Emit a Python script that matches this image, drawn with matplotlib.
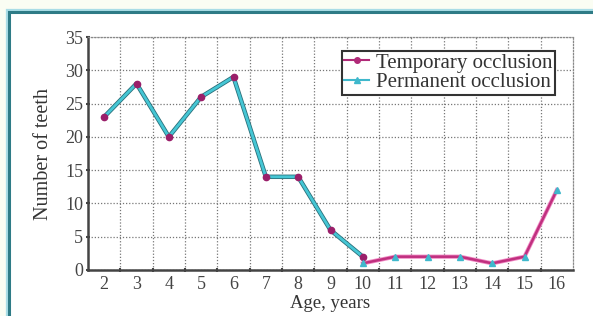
import matplotlib
matplotlib.use("Agg")
import matplotlib.pyplot as plt
from matplotlib.lines import Line2D
from matplotlib.patches import Rectangle
import matplotlib.patheffects as pe

ages_temp = [2, 3, 4, 5, 6, 7, 8, 9, 10]
temp = [23, 28, 20, 26, 29, 14, 14, 6, 2]
ages_perm = [10, 11, 12, 13, 14, 15, 16]
perm = [1, 2, 2, 2, 1, 2, 12]
xticks = list(range(2, 17))
yticks = [0, 5, 10, 15, 20, 25, 30, 35]

plt.rcParams['font.family'] = ['Liberation Serif', 'DejaVu Serif']

fig = plt.figure(figsize=(5.93, 3.16), dpi=100)
fig.patch.set_facecolor('#fafdf3')
# outer frame
frame = Rectangle((9/593, -0.1), 1.2, 1 - 12/316 + 0.1, transform=fig.transFigure,
                  facecolor='white', edgecolor='#2e7b86', linewidth=2.2, zorder=-10,
                  path_effects=[pe.withStroke(linewidth=4.5, foreground='#a9dde6')])
fig.patches.append(frame)

ax = fig.add_axes([88/593, 1 - 270/316, (573 - 88)/593, (270 - 37)/316])
ax.set_zorder(1)
ax.set_facecolor('white')

ax.plot(ages_temp, temp, color='#45c6d4', lw=2.0, zorder=3,
        path_effects=[pe.Stroke(linewidth=3.2, foreground='#2a6f7a'), pe.Normal()])
ax.plot(ages_temp, temp, ls='none', marker='o', ms=4.5, color='#9a1f6a', zorder=5)
ax.plot(ages_perm, perm, color='#c0307f', lw=1.8, zorder=4,
        path_effects=[pe.Stroke(linewidth=3.0, foreground='#f08ac4'), pe.Normal()])
ax.plot(ages_perm, perm, ls='none', marker='^', ms=4.5, color='#3fb8cc', zorder=5)

ax.set_xlim(1.5, 16.5)
ax.set_ylim(0, 35)
ax.set_yticks(yticks)
ax.set_xticks([x + 0.5 for x in xticks[:-1]])
ax.set_xticklabels([])
ax.set_xticks(xticks, minor=True)
ax.set_xticklabels([str(x) for x in xticks], minor=True)
ax.tick_params(axis='x', which='minor', length=0, labelsize=13, colors='#444444', pad=4)
ax.tick_params(axis='x', which='major', length=3, width=1.5, color='#444444', direction='inout')
ax.tick_params(axis='y', length=3, width=1.5, color='#444444', labelsize=13,
               labelcolor='#444444', direction='inout', pad=2)

ax.grid(True, which='major', ls=(0, (1, 1.5)), color='#777777', lw=0.9)
for s in ['top', 'right']:
    ax.spines[s].set_linestyle((0, (1, 1.5)))
    ax.spines[s].set_color('#888888')
    ax.spines[s].set_linewidth(0.9)
for s in ['left', 'bottom']:
    ax.spines[s].set_color('#444444')
    ax.spines[s].set_linewidth(1.8)

ax.set_xlabel('Age, years', fontsize=13.5, color='#333333', labelpad=2)
ax.set_ylabel('Number of teeth', fontsize=14.5, color='#333333', labelpad=9)

handles = [Line2D([], [], color='#b02a78', marker='o', ms=4, lw=1.5),
           Line2D([], [], color='#3fb8cc', marker='^', ms=4, lw=1.5)]
leg = ax.legend(handles, ['Temporary occlusion', 'Permanent occlusion'],
                loc='upper right', bbox_to_anchor=(0.962, 0.942), fontsize=15,
                frameon=True, fancybox=False, edgecolor='#333333', framealpha=1,
                handlelength=1.2, handletextpad=0.3, borderpad=0.12, labelspacing=0.0,
                borderaxespad=0)
leg.get_frame().set_linewidth(1.5)
for t in leg.get_texts():
    t.set_color('#333333')

fig.savefig('out.png', dpi=100, facecolor=fig.get_facecolor())
